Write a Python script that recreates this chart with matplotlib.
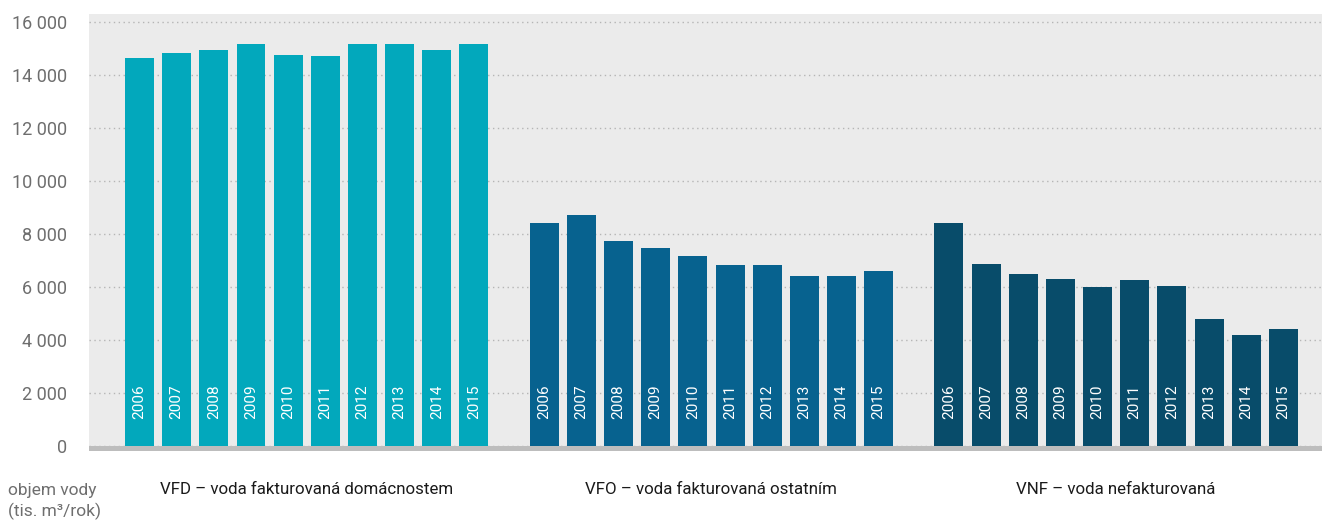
import matplotlib
matplotlib.use('Agg')
import matplotlib.pyplot as plt
import numpy as np

plt.rcParams['font.family'] = ['Roboto', 'DejaVu Sans']

years = ['2006', '2007', '2008', '2009', '2010', '2011', '2012', '2013', '2014', '2015']
groups = ['VFD – voda fakturovaná domácnostem',
          'VFO – voda fakturovaná ostatním',
          'VNF – voda nefakturovaná']
vfd = [14650, 14840, 14950, 15180, 14770, 14730, 15180, 15180, 14950, 15180]
vfo = [8420, 8720, 7740, 7480, 7180, 6840, 6840, 6420, 6420, 6610]
vnf = [8420, 6870, 6500, 6310, 6000, 6270, 6040, 4800, 4190, 4420]
colors = ['#02a8bc', '#07628f', '#084c6a']

fig = plt.figure(figsize=(13.22, 5.22), dpi=100)
ax = fig.add_axes([0.0673, 0.136, 0.9327, 0.837])
ax.set_facecolor('#ebebeb')

stride = 10.89
for g, vals in enumerate([vfd, vfo, vnf]):
    x = np.arange(len(years)) + g * stride
    ax.bar(x, vals, width=0.78, color=colors[g], zorder=3)
    for xi, yr in zip(x, years):
        ax.text(xi, 1000, yr, rotation=90, ha='center', va='bottom',
                color='white', fontsize=11, zorder=4)
    ax.text(x.mean(), -1650, groups[g], ha='center', va='center',
            fontsize=12.2, color='#1a1a1a')

ax.axhspan(-190, 0, color='#bdbdbd', zorder=5, lw=0)
ax.set_xlim(-1.36, 31.82)
ax.set_ylim(-190, 16310)
ax.set_yticks(range(0, 16001, 2000))
ax.set_yticklabels([f'{v:,}'.replace(',', ' ') for v in range(0, 16001, 2000)],
                   fontsize=13, color='#6e6e6e')
ax.tick_params(axis='y', length=0, pad=16)
ax.set_xticks([])
ax.grid(axis='y', color='#b5b5b5', linestyle=(0, (1, 2.5)), linewidth=1, zorder=1)
for s in ax.spines.values():
    s.set_visible(False)

fig.text(0.006, 0.04, 'objem vody\n(tis. m³/rok)', ha='left', va='center',
         fontsize=12.5, color='#6e6e6e', linespacing=1.35)

fig.savefig('out.png', dpi=100)
